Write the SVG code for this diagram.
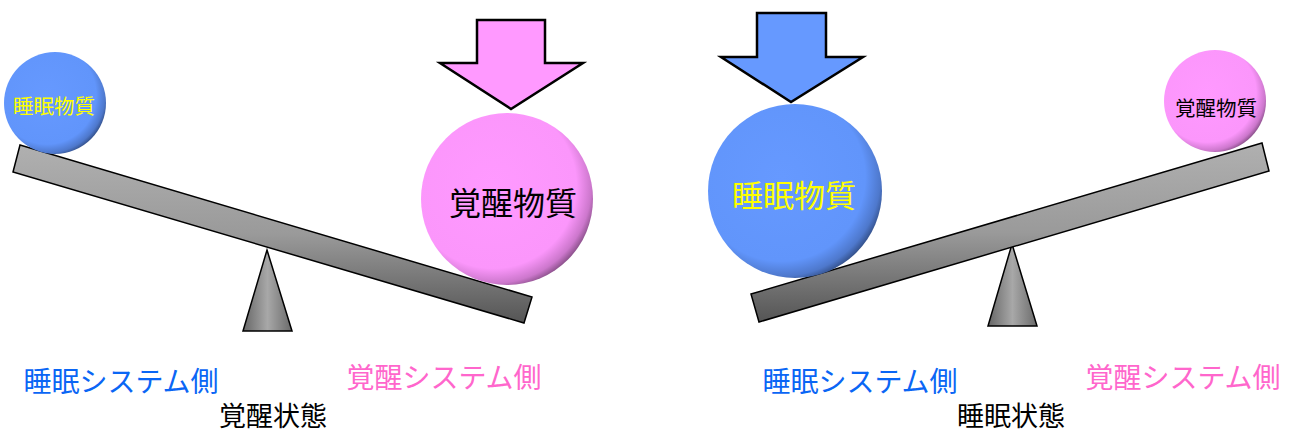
<svg xmlns="http://www.w3.org/2000/svg" width="1290" height="432" viewBox="0 0 1290 432">
<style>
text{font-family:"Noto Sans CJK JP","Noto Sans CJK SC",sans-serif;text-anchor:middle;dominant-baseline:central}
.beam{fill:url(#gBeam);stroke:#000;stroke-width:1.5}
.fulc{fill:url(#gFulc);stroke:#000;stroke-width:1.5}
.arrow{stroke:#000;stroke-width:2.5;stroke-linejoin:miter}
.y{fill:#ffff00}
.k{fill:#000}
.lb{fill:#0a66f5;font-size:28px}
.lp{fill:#ff66cc;font-size:28px}
.st{fill:#000;font-size:27px}
</style>
<defs>
<radialGradient id="gBlue" cx="0.42" cy="0.42" r="0.62">
<stop offset="0" stop-color="#6699ff"/><stop offset="0.78" stop-color="#6195fb"/><stop offset="0.92" stop-color="#4e78cc"/><stop offset="1" stop-color="#2f4a80"/>
</radialGradient>
<radialGradient id="gPink" cx="0.42" cy="0.42" r="0.62">
<stop offset="0" stop-color="#ff99ff"/><stop offset="0.78" stop-color="#fb96fb"/><stop offset="0.92" stop-color="#cc77cc"/><stop offset="1" stop-color="#804a80"/>
</radialGradient>
<linearGradient id="gBeam" x1="0" y1="0" x2="0" y2="1">
<stop offset="0" stop-color="#b0b0b0"/><stop offset="0.5" stop-color="#9a9a9a"/><stop offset="1" stop-color="#555"/>
</linearGradient>
<linearGradient id="gFulc" x1="0" y1="0" x2="1" y2="0">
<stop offset="0" stop-color="#666"/><stop offset="0.5" stop-color="#a8a8a8"/><stop offset="1" stop-color="#6a6a6a"/>
</linearGradient>
</defs>

<g id="left-scale">
<polygon id="left-fulcrum" class="fulc" points="267,250 292,331 243,331"/>
<polygon id="left-beam" class="beam" points="20,145 532,297 524,323 13,172"/>
</g>
<g id="left-sleep-ball">
<circle cx="55" cy="103" r="51" fill="url(#gBlue)"/>
<text x="54" y="105" class="y" font-size="20.5">睡眠物質</text>
</g>
<g id="left-wake-ball">
<circle cx="507" cy="199" r="86" fill="url(#gPink)"/>
<text x="513" y="201" class="k" font-size="32">覚醒物質</text>
</g>
<g id="left-arrow">
<polygon class="arrow" fill="#ff99ff" points="477,20 545,20 545,63 583,63 511,109 440,63 477,63"/>
</g>

<g id="right-scale">
<polygon id="right-fulcrum" class="fulc" points="1012,244 1037,326 988,326"/>
<polygon id="right-beam" class="beam" points="751,294 1262,143 1269,171 759,322"/>
</g>
<g id="right-sleep-ball">
<circle cx="795" cy="191" r="87" fill="url(#gBlue)"/>
<text x="794" y="193" class="y" font-size="31">睡眠物質</text>
</g>
<g id="right-wake-ball">
<circle cx="1215" cy="101" r="51" fill="url(#gPink)"/>
<text x="1216" y="107" class="k" font-size="20.5">覚醒物質</text>
</g>
<g id="right-arrow">
<polygon class="arrow" fill="#6699ff" points="757,13 826,13 826,57 863,57 791,102 721,57 757,57"/>
</g>

<g id="labels">
<text x="121" y="380" class="lb">睡眠システム側</text>
<text x="444" y="376" class="lp">覚醒システム側</text>
<text x="273" y="414" class="st">覚醒状態</text>
<text x="860" y="380" class="lb">睡眠システム側</text>
<text x="1183" y="376" class="lp">覚醒システム側</text>
<text x="1011" y="414" class="st">睡眠状態</text>
</g>
</svg>
